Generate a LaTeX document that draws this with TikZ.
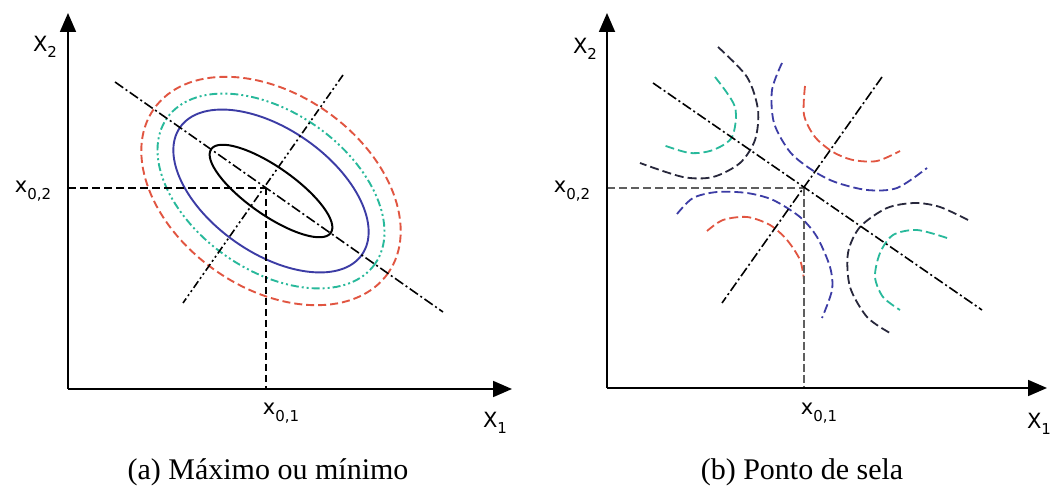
\documentclass[tikz,border=0pt]{standalone}
\usepackage{fontspec}
\setmainfont{Liberation Serif}
\newfontfamily\lblfont{DejaVu Sans}
\usetikzlibrary{arrows.meta}
\definecolor{cred}{RGB}{225,85,65}
\definecolor{cteal}{RGB}{40,185,155}
\definecolor{cblue}{RGB}{60,60,165}
\definecolor{cdark}{RGB}{40,40,60}
\definecolor{cgrey}{RGB}{95,95,95}
\newcommand\axlab[2]{#1\raisebox{-0.3em}{\fontsize{15}{15}\selectfont #2}}
\tikzset{
  axisline/.style={line width=1.8pt,-{Triangle[length=19pt,width=16pt]}},
  lbl/.style={font=\lblfont\fontsize{21}{23}\selectfont,inner sep=0pt},
  captext/.style={font=\fontsize{30}{32}\selectfont,inner sep=0pt},
  guide/.style={line width=1.5pt,dash pattern=on 8pt off 4pt},
  dashdot/.style={line width=1.6pt,dash pattern=on 10pt off 3pt on 2pt off 3pt},
  dashdotdot/.style={line width=1.6pt,dash pattern=on 8pt off 3pt on 2pt off 3pt on 2pt off 3pt},
  contour/.style={line width=1.8pt,dash pattern=on 9pt off 4pt},
}
\begin{document}
\begin{tikzpicture}[x=1pt,y=-1pt]
\path[use as bounding box,fill=white] (0,0) rectangle (1050,494);

% ---------- left panel ----------
\coordinate (O1) at (68,389);
\coordinate (Y1) at (68,13);
\coordinate (X1e) at (512,389);
\coordinate (C1) at (266,188);
\coordinate (E1) at (271,191);
\coordinate (H1) at (68,188);
\coordinate (V1) at (266,389);
\coordinate (L1a) at (115,82);
\coordinate (L1b) at (443,312);
\coordinate (L2a) at (343,75);
\coordinate (L2b) at (183,303);

\begin{scope}[shift={(E1)},rotate=-35]
  \draw[cred,line width=1.9pt,dash pattern=on 8pt off 4pt] (0,0) ellipse [x radius=143,y radius=97];
  \draw[cteal,line width=1.9pt,dash pattern=on 8pt off 3pt on 2pt off 3pt on 2pt off 3pt] (0,0) ellipse [x radius=127,y radius=79];
  \draw[cblue,line width=1.9pt] (0,0) ellipse [x radius=111,y radius=62];
  \draw[black,line width=2pt] (0,0) ellipse [x radius=73,y radius=24];
\end{scope}

\draw[guide] (H1) -- (C1);
\draw[line width=1.3pt,dash pattern=on 7pt off 4pt] (C1) -- (V1);
\draw[dashdot] (L1a) -- (L1b);
\draw[dashdotdot] (L2a) -- (L2b);
\draw[axisline] (O1) -- (Y1);
\draw[axisline] (O1) -- (X1e);

\node[lbl] (lx2) at (45,47) {\axlab{X}{2}};
\node[lbl] (lx02) at (33,191) {\axlab{x}{0,2}};
\node[lbl] (lx01) at (281,413) {\axlab{x}{0,1}};
\node[lbl] (lx1) at (495,423) {\axlab{X}{1}};

% ---------- right panel ----------
\coordinate (O2) at (607,388);
\coordinate (Y2) at (607,13);
\coordinate (X2e) at (1047,388);
\coordinate (C2) at (804,188);
\coordinate (H2) at (607,188);
\coordinate (V2) at (804,388);
\coordinate (M1a) at (653,83);
\coordinate (M1b) at (982,310);
\coordinate (M2a) at (882,77);
\coordinate (M2b) at (722,303);

\draw[cteal,contour] plot[smooth] coordinates {(715,77) (735,107) (732,137) (713,150) (690,153) (663,145)};
\draw[cdark,contour] plot[smooth] coordinates {(718,47) (747,77) (758,110) (755,140) (740,163) (713,177) (683,177) (640,163)};
\draw[cblue,contour] plot[smooth] coordinates {(782,63) (772,90) (774,123) (790,152) (812,170) (835,182) (867,190) (897,188) (927,168)};
\draw[cred,contour] plot[smooth] coordinates {(805,86) (804,115) (815,137) (833,152) (853,160) (877,161) (900,151)};
\draw[cdark,contour] plot[smooth] coordinates {(968,220) (940,207) (915,203) (887,208) (860,227) (848,253) (850,287) (867,317) (890,333)};
\draw[cteal,contour] plot[smooth] coordinates {(947,238) (917,230) (893,235) (880,253) (875,277) (883,297) (900,310)};
\draw[cblue,contour] plot[smooth] coordinates {(677,214) (693,198) (717,192) (747,193) (773,200) (800,217) (817,237) (830,267) (832,290) (822,318)};
\draw[cred,contour] plot[smooth] coordinates {(707,231) (723,220) (747,217) (770,225) (787,240) (800,260) (804,280)};

\draw[cgrey,guide] (H2) -- (C2);
\draw[cgrey,line width=2.4pt,dash pattern=on 8pt off 3pt] (C2) -- (V2);
\draw[dashdot] (M1a) -- (M1b);
\draw[dashdot] (M2a) -- (M2b);
\draw[axisline] (O2) -- (Y2);
\draw[axisline] (O2) -- (X2e);

\node[lbl] (rx2) at (585,49) {\axlab{X}{2}};
\node[lbl] (rx02) at (572,191) {\axlab{x}{0,2}};
\node[lbl] (rx01) at (819,413) {\axlab{x}{0,1}};
\node[lbl] (rx1) at (1039,424) {\axlab{X}{1}};

% ---------- captions ----------
\node[captext] (capa) at (268,472) {(a) Máximo ou mínimo};
\node[captext] (capb) at (802,472) {(b) Ponto de sela};
\end{tikzpicture}
\end{document}
